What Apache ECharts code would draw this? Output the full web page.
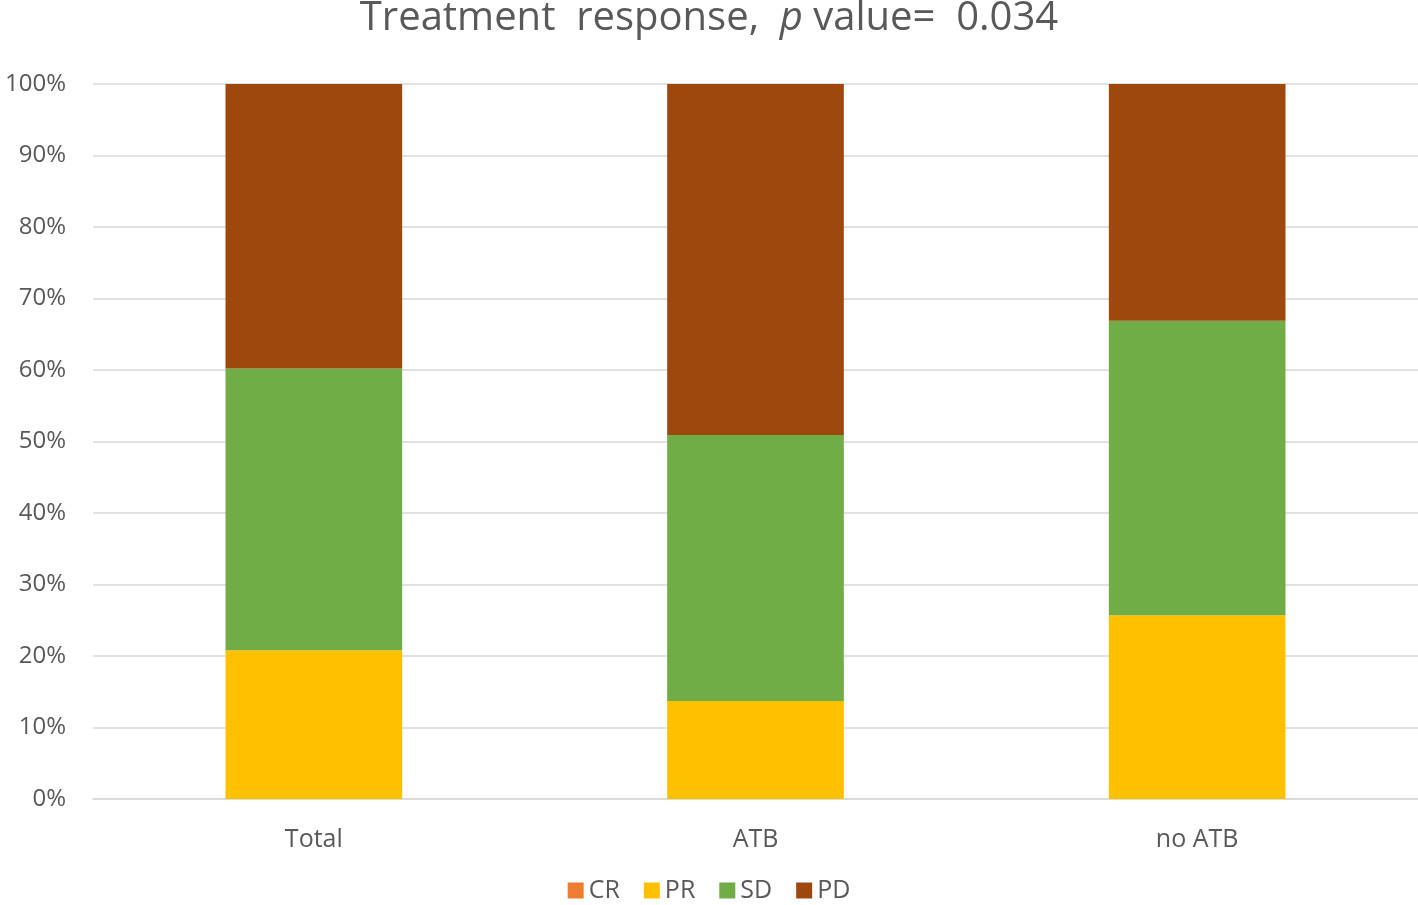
<!DOCTYPE html>
<html><head><meta charset="utf-8">
<script src="https://cdn.jsdelivr.net/npm/echarts@6/dist/echarts.min.js"></script>
<style>html,body{margin:0;padding:0;background:#fff}#c{width:1418px;height:905px}</style>
</head><body><div id="c"></div>
<script>
const categories = ['Total', 'ATB', 'no ATB'];
const CR = [0, 0, 0];
const PR = [20.8, 13.7, 25.7];
const SD = [39.4, 37.2, 41.2];
const PD = [39.8, 49.1, 33.1];
const yTicks = [0,10,20,30,40,50,60,70,80,90,100];

const font = '"Open Sans", "Noto Sans", sans-serif';
const chart = echarts.init(document.getElementById('c'));
const mk = (name, data, color) => ({
  name, type: 'bar', stack: 'a', data, barWidth: '40%',
  itemStyle: { color }, emphasis: { disabled: true }
});
chart.setOption({
  animation: false,
  title: {
    text: 'Treatment  response,  {i|p} value=  0.034',
    left: 'center', top: -6,
    textStyle: {
      fontFamily: font, fontSize: 40, fontWeight: 'normal', color: '#595959',
      rich: { i: { fontFamily: font, fontSize: 40, fontStyle: 'italic', color: '#595959' } }
    }
  },
  legend: {
    bottom: -3, left: 'center', itemWidth: 16, itemHeight: 16, itemGap: 24,
    icon: 'rect',
    textStyle: { fontFamily: font, fontSize: 25, color: '#595959' },
    data: ['CR', 'PR', 'SD', 'PD']
  },
  grid: { left: 93, right: 0, top: 84, bottom: 106, containLabel: false },
  xAxis: {
    type: 'category', data: categories,
    axisLine: { lineStyle: { color: '#d9d9d9', width: 1.5 } },
    axisTick: { show: false },
    axisLabel: { fontFamily: font, fontSize: 25, color: '#595959', margin: 28 }
  },
  yAxis: {
    type: 'value', min: 0, max: 100, interval: 10,
    axisLine: { show: false }, axisTick: { show: false },
    axisLabel: { fontFamily: font, fontSize: 24, color: '#595959', margin: 27,
      formatter: v => yTicks.includes(v) ? v + '%' : '' },
    splitLine: { lineStyle: { color: '#d9d9d9', width: 1.5 } }
  },
  series: [
    mk('CR', CR, '#ED7D31'),
    mk('PR', PR, '#FFC000'),
    mk('SD', SD, '#70AD47'),
    mk('PD', PD, '#9E480E')
  ]
});
</script></body></html>
